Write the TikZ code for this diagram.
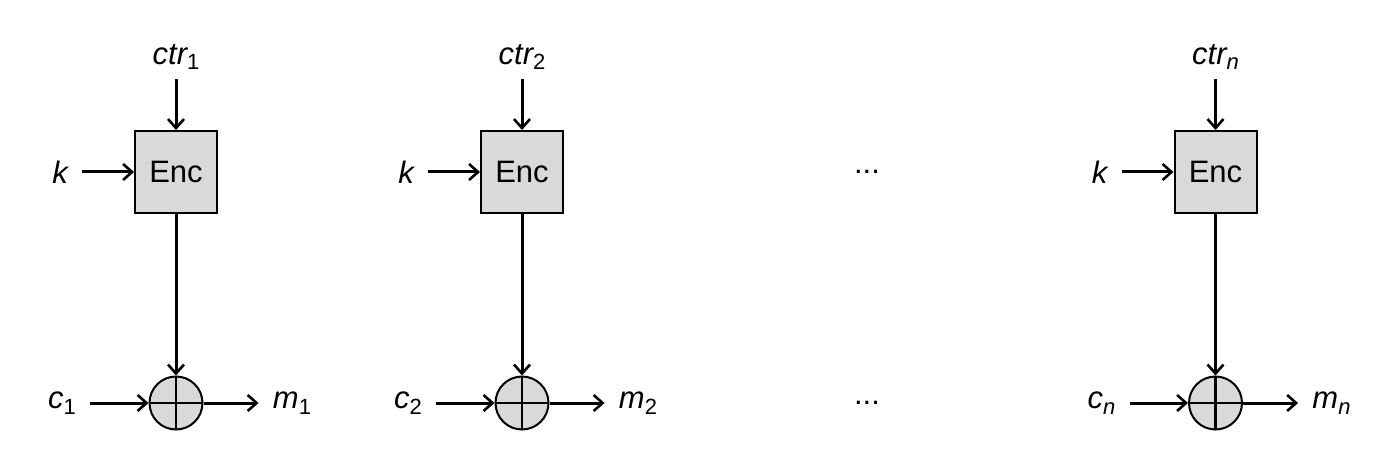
\documentclass[tikz,border=0pt]{standalone}
\usepackage{fontspec}
\setmainfont{Liberation Sans}
\usetikzlibrary{arrows.meta}
\definecolor{boxgray}{HTML}{D9D9D9}
\newcommand{\mysub}[1]{\raisebox{-0.35ex}{\fontsize{11}{12}\selectfont #1}}
\begin{document}
\begin{tikzpicture}[x=0.5pt,y=-0.5pt,
  every node/.style={font=\fontsize{15.5}{18}\selectfont},
  encbox/.style={draw,line width=1pt,fill=boxgray,minimum size=41pt,inner sep=0pt},
  xorbox/.style={draw,circle,line width=1pt,fill=boxgray,minimum size=26.5pt,inner sep=0pt,
    path picture={\draw[line width=1.1pt] (path picture bounding box.north) -- (path picture bounding box.south)
      (path picture bounding box.west) -- (path picture bounding box.east);}},
  lbl/.style={inner xsep=7pt,inner ysep=4.5pt},
  conn/.style={line width=1.5pt,-{Straight Barb[length=4.5pt,width=8pt,line width=1.3pt]}}]
\useasboundingbox (0,0) rectangle (1381,470);
\foreach \i/\s/\x in {1/1/176,2/2/522,n/{\itshape n}/1215.5}{
  \node[encbox] (e\i) at (\x,172) {Enc};
  \node[lbl] (ctr\i) at (\x,57) {{\itshape ctr}\mysub{\s}};
  \node[lbl] (k\i) at (\x-116,172) {\itshape k};
  \node[xorbox] (x\i) at (\x,403) {};
  \node[lbl] (c\i) at (\x-114,403) {{\itshape c}\mysub{\s}};
  \node[lbl] (m\i) at (\x+116,403) {{\itshape m}\mysub{\s}};
  \draw[conn] (ctr\i) -- (e\i);
  \draw[conn] (k\i) -- (e\i);
  \draw[conn] (e\i) -- (x\i);
  \draw[conn] (c\i) -- (x\i);
  \draw[conn] (x\i) -- (m\i);
}
\node (d1) at (867,172) {...};
\node (d2) at (867,403) {...};
\end{tikzpicture}
\end{document}
